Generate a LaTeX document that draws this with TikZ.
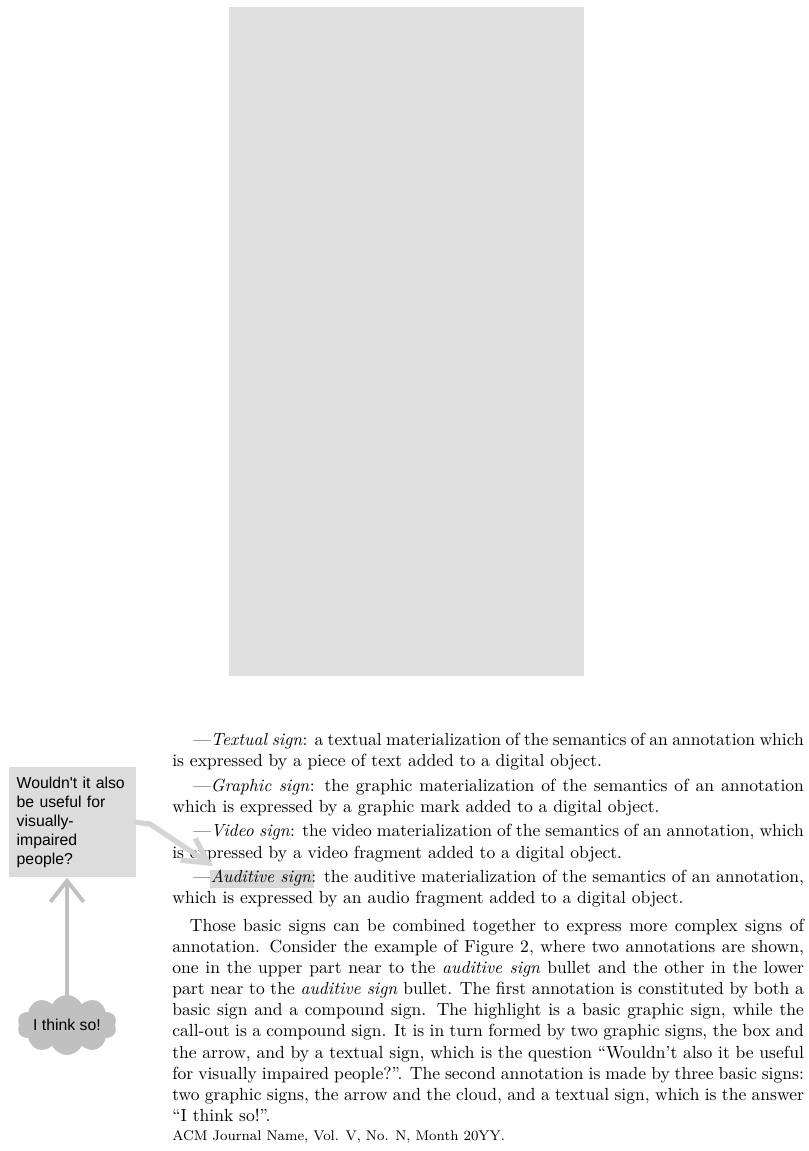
\documentclass[tikz,border=0pt]{standalone}
\usepackage{fontspec}
\usepackage{tikz}
\usetikzlibrary{shapes.symbols,arrows.meta,positioning}
\newfontfamily\calloutfont{Liberation Sans}
\definecolor{imagegray}{HTML}{E0E0E0}
\definecolor{boxgray}{HTML}{DCDCDC}
\definecolor{hlgray}{HTML}{D9D9D9}
\definecolor{arrowgray}{HTML}{D4D4D4}
\definecolor{cloudgray}{HTML}{C0C0C0}
\newsavebox{\hlbox}
\newcommand{\hlsign}[1]{\sbox{\hlbox}{#1}\rlap{\hskip-0.5pt\textcolor{hlgray}{\rule[-3pt]{\dimexpr\wd\hlbox+2pt\relax}{10.3pt}}}\usebox{\hlbox}}
\tikzstyle{bodytext}=[rectangle, anchor=north west, inner sep=0pt, text width=360pt, align=justify, font=\normalsize]
\tikzstyle{footline}=[anchor=base west, inner sep=0pt, font=\footnotesize]
\tikzstyle{calloutbox}=[rectangle, anchor=north west, fill=boxgray, inner sep=4.2pt, text width=64pt, minimum height=62.7pt, align=left, font=\calloutfont\fontsize{9}{10.8}\selectfont]
\tikzstyle{thoughtcloud}=[cloud, cloud puffs=10, cloud puff arc=130, aspect=2.2, fill=cloudgray, inner sep=0pt, minimum width=54pt, minimum height=26pt, font=\calloutfont\fontsize{9}{10.8}\selectfont]
\tikzstyle{callarrow}=[draw=arrowgray, line width=3pt, line cap=round, line join=round, -{Straight Barb[length=14pt,width=15pt]}]
\tikzstyle{cloudarrow}=[draw=cloudgray, line width=2.2pt, line cap=round, -{Straight Barb[length=12pt,width=19pt]}]

\begin{document}
\begin{tikzpicture}[x=0.57pt,y=-0.57pt]
\useasboundingbox (0,0) rectangle (809,1151);

\fill[imagegray] (229,7) rectangle (584,676);

\node[bodytext] (body) at (172,733) {\setlength{\parindent}{0pt}\setlength{\parskip}{2pt}%
\hspace*{12pt}---\textit{Textual sign}: a textual materialization of the semantics of an annotation which\linebreak
is expressed by a piece of text added to a digital object.\par
\hspace*{12pt}---\textit{Graphic sign}: the graphic materialization of the semantics of an annotation\linebreak
which is expressed by a graphic mark added to a digital object.\par
\hspace*{12pt}---\textit{Video sign}: the video materialization of the semantics of an annotation, which\linebreak
is expressed by a video fragment added to a digital object.\par
\hspace*{12pt}---\hlsign{\textit{Auditive sign}}: the auditive materialization of the semantics of an annotation,\linebreak
which is expressed by an audio fragment added to a digital object.\par
\vspace{2pt}
\hspace*{10pt}Those basic signs can be combined together to express more complex signs of\linebreak
annotation. Consider the example of Figure 2, where two annotations are shown,\linebreak
one in the upper part near to the \textit{auditive sign} bullet and the other in the lower\linebreak
part near to the \textit{auditive sign} bullet. The first annotation is constituted by both a\linebreak
basic sign and a compound sign. The highlight is a basic graphic sign, while the\linebreak
call-out is a compound sign. It is in turn formed by two graphic signs, the box and\linebreak
the arrow, and by a textual sign, which is the question ``Wouldn't also it be useful\linebreak
for visually impaired people?''. The second annotation is made by three basic signs:\linebreak
two graphic signs, the arrow and the cloud, and a textual sign, which is the answer\linebreak
``I think so!''.};
\node[footline] (foot) at (172,1140) {ACM Journal Name, Vol. V, No. N, Month 20YY.};

\node[calloutbox] (callout) at (9,767) {Wouldn't it also\\be useful for\\visually-\\impaired\\people?};
\node[thoughtcloud] (cloud) at (67,1025) {I think so!};

\coordinate (bend) at (150,824);
\coordinate (hltip) at (213,866);
\draw[callarrow] (callout.east) -- (bend) -- (hltip);
\draw[cloudarrow] (cloud.north) -- (cloud.north |- callout.south);

\end{tikzpicture}
\end{document}
